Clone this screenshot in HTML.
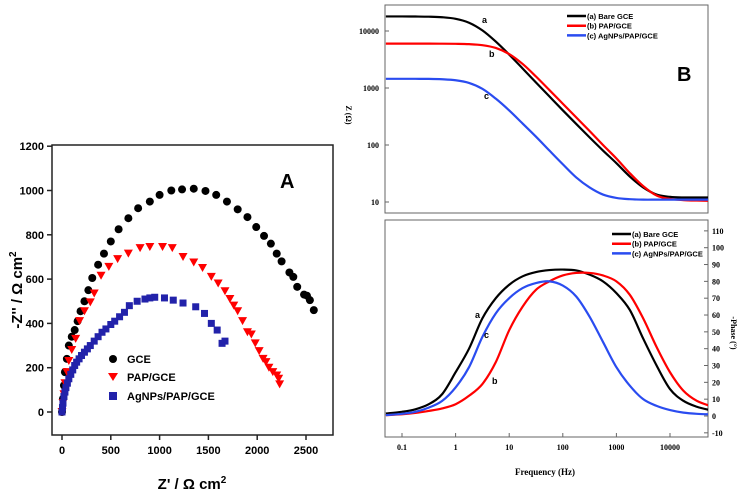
<!DOCTYPE html>
<html><head><meta charset="utf-8"><style>
html,body{margin:0;padding:0;background:#fff;}
svg{display:block;}
.a{font-family:"Liberation Sans",Arial,sans-serif;font-weight:bold;}
.b{font-family:"Liberation Serif",serif;font-weight:bold;}
</style></head><body>
<svg id="s" width="743" height="499" viewBox="0 0 743 499" xmlns="http://www.w3.org/2000/svg">
<defs>
<clipPath id="cm"><rect x="385" y="5" width="323" height="208"/></clipPath>
<clipPath id="cp"><rect x="385" y="220" width="323" height="217"/></clipPath>
</defs>
<g id="pa">
<rect x="52" y="145" width="281" height="290" fill="none" stroke="#222" stroke-width="1.5"/>
<text x="280" y="188" class="a" font-size="20">A</text>
<text transform="translate(22,290) rotate(-90)" text-anchor="middle" class="a" font-size="15">-Z'' / Ω cm<tspan dy="-6" font-size="10">2</tspan></text>
<text x="192" y="489" text-anchor="middle" class="a" font-size="15">Z' / Ω cm<tspan dy="-6" font-size="10">2</tspan></text>
<g>
<circle cx="113" cy="359" r="4" fill="#000"/>
<text x="127" y="363" class="a" font-size="11">GCE</text>
<path d="M108,373 L118,373 L113,381 Z" fill="#f00"/>
<text x="127" y="381" class="a" font-size="11">PAP/GCE</text>
<rect x="109" y="392" width="8" height="8" fill="#2222aa"/>
<text x="127" y="400" class="a" font-size="11">AgNPs/PAP/GCE</text>
</g>
</g>
<g id="pb">
<rect x="385" y="5" width="323" height="208" fill="none" stroke="#666" stroke-width="1"/>
<rect x="385" y="220" width="323" height="217" fill="none" stroke="#666" stroke-width="1"/>
<text x="677" y="81" class="a" font-size="20">B</text>
<text transform="translate(346,115) rotate(90)" text-anchor="middle" class="b" font-size="8">Z (Ω)</text>
<text transform="translate(731,333) rotate(90)" text-anchor="middle" class="b" font-size="8">-Phase (°)</text>
<text x="545" y="475" text-anchor="middle" class="b" font-size="9">Frequency (Hz)</text>
<g id="gm" clip-path="url(#cm)"></g>
<g id="gp" clip-path="url(#cp)"></g>
</g>
</svg>
<script>
// ---------- Nyquist data (panel A) ----------
const gceX=[0,10,20,30,50,70,100,130,160,190,230,270,310,370,430,500,580,680,780,900,1000,1120,1230,1350,1470,1580,1690,1800,1900,1990,2070,2140,2200,2250,2330,2370,2410,2480,2510,2540,2580];
const gceY=[0,60,120,180,240,300,340,370,410,455,500,550,605,665,715,770,825,875,920,950,980,1000,1005,1008,998,980,950,915,880,835,795,760,715,680,630,610,565,530,525,505,460];
const papX=[0,10,20,30,50,70,100,140,180,230,290,330,400,480,570,680,800,900,1030,1130,1240,1350,1440,1530,1600,1670,1720,1760,1800,1850,1900,1940,1980,2020,2060,2090,2120,2160,2200,2220,2230];
const papY=[0,40,80,130,180,230,280,330,410,455,495,535,615,655,690,715,740,745,745,740,700,675,650,610,580,545,510,480,455,410,360,350,310,275,240,225,200,180,165,150,125];
const agX=[0,5,10,20,30,40,55,70,90,110,130,150,175,200,230,260,290,330,370,410,450,500,540,590,640,690,770,850,900,950,1050,1140,1240,1370,1460,1530,1590,1640,1670];
const agY=[0,20,40,70,90,110,130,150,170,190,210,225,240,255,270,285,300,320,340,360,375,395,410,430,450,480,500,510,515,518,515,505,492,475,445,400,370,310,320];
const aXTicks=[0,500,1000,1500,2000,2500];
const aYTicks=[0,200,400,600,800,1000,1200];
// ---------- Bode data (panel B) ----------
const freqs=[0.05,0.1,0.178,0.316,0.562,1,1.78,3.16,5.62,10,17.8,31.6,56.2,100,178,316,562,1000,1780,3160,5620,10000,17800,31600,56200];
const magBare=[18000,18000,17940,17810,17430,16370,13980,10250,6520,3850,2200,1250,712,406,234,136,80,48,28,18,13.5,12.3,12,12,12];
const magPap=[6000,6000,6000,6000,5990,5960,5880,5640,5040,3940,2640,1590,920,530,305,176,100,58,32,19,13,11.3,10.8,10.6,10.5];
const magAg=[1450,1450,1448,1444,1422,1367,1227,967,650,404,238,140,80,46,27,18,13.5,11.8,11.2,11,11,11,11,11,11];
const phBare=[1.5,2.5,4,7,13,26,40,58,70,78,83,85.5,86.7,87,86.5,84,80,73,63,46,30,16,9,5.5,3.5];
const phPap=[0.5,1,1.8,3,4.5,7,12,19,32,51,65,75,80,83.5,85,85,83.5,80,72,58,41,26,15,9,6];
const phAg=[0.5,1.3,2.5,5,9,17,29,47,61,70,76,79,80,77.5,71,59,44,29,18,10,6,3.5,2,1.3,1];
const freqTicks=[0.1,1,10,100,1000,10000];
const magTicks=[10,100,1000,10000];
const phTicks=[-10,0,10,20,30,40,50,60,70,80,90,100,110];

const NS="http://www.w3.org/2000/svg";
const svg=document.getElementById('s');
const pa=document.getElementById('pa'), pb=document.getElementById('pb');
const gm=document.getElementById('gm'), gp=document.getElementById('gp');
function mk(tag,attrs,parent){const e=document.createElementNS(NS,tag);for(const k in attrs)e.setAttribute(k,attrs[k]);(parent||svg).appendChild(e);return e;}

const ax=v=>62+v*0.0976, ay=v=>412-v*0.2215;
aXTicks.forEach(t=>{
  const l=mk('line',{x1:ax(t),x2:ax(t),y1:435,y2:440,stroke:'#222','stroke-width':1.5},pa);
  
  
  const tx=mk('text',{x:ax(t),y:454,'text-anchor':'middle','class':'a','font-size':11},pa);
  tx.textContent=t;
  
  
});
aYTicks.forEach(t=>{
  const l=mk('line',{x1:47,x2:52,y1:ay(t),y2:ay(t),stroke:'#222','stroke-width':1.5},pa);
  
  
  const tx=mk('text',{x:44,y:ay(t)+4,'text-anchor':'end','class':'a','font-size':11},pa);
  tx.textContent=t;
  
  
});
gceX.forEach((x,i)=>{
  const c=mk('circle',{cx:ax(x),cy:ay(gceY[i]),r:4,fill:'#000'},pa);
  
  
});
papX.forEach((x,i)=>{
  const X=ax(x),Y=ay(papY[i]);
  const p=mk('path',{d:`M${X-4.5},${Y-4} L${X+4.5},${Y-4} L${X},${Y+4} Z`,fill:'#f00'},pa);
  
  
});
agX.forEach((x,i)=>{
  const r=mk('rect',{x:ax(x)-3.5,y:ay(agY[i])-3.5,width:7,height:7,fill:'#2222aa'},pa);
  
  
});

const fx=f=>402+(Math.log10(f)+1)*53.6;
const my=v=>31+(4-Math.log10(v))*57;
const py=v=>416-v*1.683;
function smooth(pts){
  let d=`M${pts[0][0]},${pts[0][1]}`;
  for(let i=0;i<pts.length-1;i++){
    const p0=pts[Math.max(0,i-1)],p1=pts[i],p2=pts[i+1],p3=pts[Math.min(pts.length-1,i+2)];
    const c1=[p1[0]+(p2[0]-p0[0])/6,p1[1]+(p2[1]-p0[1])/6];
    const c2=[p2[0]-(p3[0]-p1[0])/6,p2[1]-(p3[1]-p1[1])/6];
    d+=` C${c1[0]},${c1[1]} ${c2[0]},${c2[1]} ${p2[0]},${p2[1]}`;
  }
  return d;
}
freqTicks.forEach(f=>{
  const tx=mk('text',{x:fx(f),y:450,'text-anchor':'middle','class':'b','font-size':8},pb);
  tx.textContent=f;
  
  
  const l=mk('line',{x1:fx(f),x2:fx(f),y1:437,y2:433,stroke:'#666'},pb);
  
  
});
magTicks.forEach(t=>{
  const tx=mk('text',{x:379,y:my(t)+3,'text-anchor':'end','class':'b','font-size':8},pb);
  tx.textContent=t;
  
  
  const l=mk('line',{x1:385,x2:389,y1:my(t),y2:my(t),stroke:'#666'},pb);
  
  
});
phTicks.forEach(t=>{
  const tx=mk('text',{x:712,y:py(t)+3,'class':'b','font-size':8},pb);
  tx.textContent=t;
  
  
  const l=mk('line',{x1:704,x2:708,y1:py(t),y2:py(t),stroke:'#666'},pb);
  
  
});
const series=[
  {m:magBare,p:phBare,c:'#000',n:'bare-gce'},
  {m:magPap,p:phPap,c:'#f00',n:'pap-gce'},
  {m:magAg,p:phAg,c:'#2a4cf0',n:'agnps-pap-gce'}];
series.forEach(s=>{
  const l1=mk('path',{d:smooth(freqs.map((f,i)=>[fx(f),my(s.m[i])])),fill:'none',stroke:s.c,'stroke-width':2.2},gm);
  
  
  const l2=mk('path',{d:smooth(freqs.map((f,i)=>[fx(f),py(s.p[i])])),fill:'none',stroke:s.c,'stroke-width':2.2},gp);
  
  
});
[['a',482,23],['b',489,57],['c',484,99],['a',475,318],['c',484,338],['b',492,384]].forEach(a=>{
  const t=mk('text',{x:a[1],y:a[2],'class':'a','font-size':9},pb);
  t.textContent=a[0];
  
  
});
const legNames=['(a) Bare GCE','(b) PAP/GCE','(c) AgNPs/PAP/GCE'];
[[567,16],[612,234]].forEach((L,j)=>{
  legNames.forEach((n,i)=>{
    const y=L[1]+i*9.7;
    const l=mk('line',{x1:L[0],x2:L[0]+19,y1:y,y2:y,stroke:series[i].c,'stroke-width':2.5},pb);
    
    
    const t=mk('text',{x:L[0]+20,y:y+3,'class':'a','font-size':7.5},pb);
    t.textContent=n;
    
    
  });
});
</script>
</body></html>
